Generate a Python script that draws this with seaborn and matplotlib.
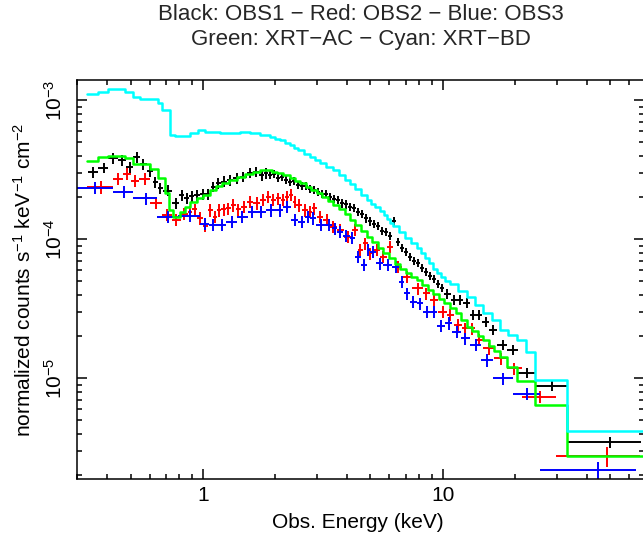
import matplotlib
matplotlib.use("Agg")
import matplotlib.pyplot as plt
import numpy as np
import pandas as pd
import seaborn as sns
from matplotlib.ticker import LogLocator, NullFormatter

# OBS1 (black): channel bin edges [keV], flux [counts s^-1 keV^-1 cm^-2], relative errors
obs1_edges = [
    0.3327, 0.3673, 0.4044, 0.4416, 0.4781, 0.5137, 0.5480, 0.5843, 0.6177, 0.6479,
    0.6852, 0.7427, 0.7981, 0.8374, 0.8784, 0.9217, 0.9744, 1.030, 1.081, 1.134,
    1.190, 1.259, 1.341, 1.430, 1.525, 1.625, 1.720, 1.804, 1.871,
    1.944, 2.020, 2.099, 2.181, 2.267, 2.355, 2.447, 2.543, 2.642, 2.746,
    2.853, 2.965, 3.081, 3.201, 3.326, 3.456, 3.591, 3.732, 3.878, 4.029,
    4.187, 4.350, 4.520, 4.697, 4.881, 5.072, 5.270, 5.476, 5.690, 5.913,
    6.144, 6.384, 6.634, 6.893, 7.163, 7.443, 7.734, 8.036, 8.351, 8.677,
    9.016, 9.369, 9.735, 10.12,
    10.78, 11.42, 12.21, 12.99, 13.76, 14.58, 15.59, 16.92, 18.62, 20.60,
    24.25, 32.96, 67.05,
]
obs1_flux = [
    3.03e-4, 3.27e-4, 3.83e-4, 3.72e-4, 3.30e-4, 3.89e-4, 3.46e-4, 3.11e-4, 2.57e-4, 2.33e-4,
    2.24e-4, 1.82e-4, 2.08e-4, 1.97e-4, 2.05e-4, 2.08e-4, 2.12e-4, 2.11e-4, 2.39e-4, 2.53e-4,
    2.60e-4, 2.67e-4, 2.75e-4, 2.82e-4, 3.01e-4, 3.06e-4, 2.90e-4, 2.98e-4,
    2.90e-4, 2.95e-4, 2.76e-4, 2.81e-4, 2.67e-4, 2.58e-4, 2.63e-4, 2.46e-4, 2.42e-4, 2.42e-4,
    2.30e-4, 2.26e-4, 2.19e-4, 2.12e-4, 2.12e-4, 2.01e-4, 1.95e-4, 1.92e-4, 1.82e-4, 1.79e-4,
    1.71e-4, 1.68e-4, 1.57e-4, 1.52e-4, 1.42e-4, 1.35e-4, 1.29e-4, 1.25e-4, 1.15e-4, 1.13e-4,
    1.06e-4, 1.35e-4, 9.56e-5, 8.66e-5, 8.10e-5, 7.46e-5, 6.98e-5, 6.75e-5, 6.22e-5, 5.82e-5,
    5.45e-5, 5.18e-5, 4.77e-5, 4.46e-5,
    4.04e-5, 3.66e-5, 3.66e-5, 3.48e-5, 2.85e-5, 2.85e-5, 2.54e-5, 2.23e-5, 1.74e-5, 1.60e-5,
    1.09e-5, 8.80e-6, 3.48e-6,
]
obs1_rel = [0.09] * 28 + [0.07] * 44 + [0.08] * 12 + [0.09]

# OBS2 (red)
obs2_edges = [
    0.3286, 0.4239, 0.4632, 0.5018, 0.5436, 0.6046, 0.6767, 0.7427, 0.8110, 0.8643,
    0.9025, 0.9467, 0.9982, 1.047, 1.099, 1.149, 1.195, 1.248, 1.309, 1.374,
    1.441, 1.524, 1.626, 1.733, 1.832, 1.922, 2.017, 2.115, 2.203, 2.280,
    2.367, 2.458, 2.584, 2.734, 2.844, 2.984, 3.183, 3.392, 3.615, 3.885,
    4.174, 4.416, 4.633, 4.861, 5.141, 5.481, 5.842, 6.229, 6.748, 7.484,
    8.239, 8.854, 9.587, 10.39, 11.16, 11.99, 12.79, 13.63, 14.77, 16.39,
    18.48, 21.34, 29.65, 66.73,
]
obs2_flux = [
    2.37e-4, 2.72e-4, 2.95e-4, 2.64e-4, 2.72e-4, 1.83e-4, 1.50e-4, 1.38e-4, 1.52e-4, 1.58e-4,
    1.64e-4, 1.42e-4, 1.25e-4, 1.62e-4, 1.45e-4, 1.62e-4, 1.64e-4, 1.67e-4, 1.76e-4, 1.64e-4,
    1.72e-4, 1.86e-4, 1.82e-4, 1.92e-4, 2.02e-4, 1.92e-4, 1.97e-4, 1.92e-4, 2.02e-4, 2.08e-4,
    1.86e-4, 1.76e-4, 1.62e-4, 1.58e-4, 1.67e-4, 1.45e-4, 1.38e-4, 1.23e-4, 1.17e-4, 1.04e-4,
    1.17e-4, 8.38e-5, 9.36e-5, 7.93e-5, 8.38e-5, 7.49e-5, 8.85e-5, 6.35e-5, 5.38e-5, 4.44e-5,
    4.09e-5, 3.66e-5, 3.01e-5, 2.85e-5, 2.42e-5, 2.29e-5, 2.29e-5, 1.89e-5, 1.64e-5, 1.39e-5,
    1.18e-5, 7.37e-6, 2.76e-6,
]
obs2_rel = [0.10] * 61 + [0.10, 0.16]

# OBS3 (blue)
obs3_edges = [
    0.29, 0.4239, 0.5137, 0.6468, 0.7889, 0.9744, 1.062, 1.152, 1.250, 1.386,
    1.537, 1.668, 1.832, 2.017, 2.167, 2.328, 2.502, 2.669, 2.800, 2.960,
    3.233, 3.473, 3.617, 3.824, 4.110, 4.291, 4.566, 4.824, 4.980, 5.265,
    5.656, 6.132, 6.590, 6.913, 7.309, 7.793, 8.304, 8.854, 9.513, 10.22,
    10.98, 11.90, 12.99, 14.44, 16.20, 19.63, 25.34, 63.72,
]
obs3_flux = [
    2.34e-4, 2.20e-4, 1.97e-4, 1.45e-4, 1.47e-4, 1.29e-4, 1.27e-4, 1.27e-4, 1.34e-4, 1.45e-4,
    1.58e-4, 1.58e-4, 1.62e-4, 1.62e-4, 1.72e-4, 1.38e-4, 1.34e-4, 1.45e-4, 1.42e-4, 1.27e-4,
    1.27e-4, 1.20e-4, 1.13e-4, 1.06e-4, 1.02e-4, 7.49e-5, 6.53e-5, 8.38e-5, 8.14e-5, 6.72e-5,
    6.53e-5, 6.35e-5, 4.95e-5, 4.09e-5, 3.56e-5, 3.46e-5, 3.01e-5, 3.01e-5, 2.38e-5, 2.49e-5,
    2.16e-5, 1.94e-5, 1.74e-5, 1.35e-5, 1.00e-5, 7.71e-6, 2.19e-6,
]
obs3_rel = [0.10] * 46 + [0.14]

# XRT-AC model (green), step function: left bin edges + last edge
xrtac_edges = [
    0.3286, 0.3673, 0.4044, 0.4745, 0.5137, 0.6032, 0.6531, 0.6965, 0.7238, 0.7545,
    0.8044, 0.8437, 0.8853, 0.9441, 1.003, 1.072, 1.136, 1.204, 1.287, 1.386,
    1.501, 1.625, 1.733, 1.848, 1.945, 2.040, 2.161, 2.311, 2.424, 2.543,
    2.694, 2.827, 2.995, 3.141, 3.327, 3.501, 3.699, 3.898, 4.110, 4.311,
    4.566, 4.824, 5.075, 5.375, 5.656, 5.974, 6.298, 6.638, 7.032, 7.379,
    7.793, 8.200, 8.686, 9.139, 9.651, 10.17, 10.73, 11.31, 11.92, 12.59,
    13.25, 14.03, 14.77, 15.59, 16.44, 17.33, 18.49, 20.34, 24.25, 32.96, 68.33,
]
xrtac_flux = [
    3.68e-4, 3.89e-4, 3.97e-4, 3.83e-4, 3.46e-4, 3.20e-4, 2.77e-4, 2.14e-4, 1.62e-4, 1.45e-4,
    1.58e-4, 1.72e-4, 1.86e-4, 1.98e-4, 2.10e-4, 2.26e-4, 2.40e-4, 2.54e-4, 2.67e-4, 2.82e-4,
    2.97e-4, 3.06e-4, 3.14e-4, 3.15e-4, 3.07e-4, 2.98e-4, 2.88e-4, 2.75e-4, 2.63e-4, 2.53e-4,
    2.39e-4, 2.26e-4, 2.14e-4, 2.02e-4, 1.89e-4, 1.76e-4, 1.64e-4, 1.51e-4, 1.38e-4, 1.27e-4,
    1.15e-4, 1.04e-4, 9.56e-5, 8.66e-5, 7.93e-5, 7.28e-5, 6.64e-5, 6.11e-5, 5.72e-5, 5.40e-5,
    5.10e-5, 4.69e-5, 4.32e-5, 4.04e-5, 3.72e-5, 3.48e-5, 3.23e-5, 2.95e-5, 2.63e-5, 2.35e-5,
    2.19e-5, 2.03e-5, 1.89e-5, 1.72e-5, 1.57e-5, 1.43e-5, 1.21e-5, 9.56e-6, 6.43e-6, 2.76e-6,
]

# XRT-BD model (cyan)
xrtbd_edges = [
    0.3286, 0.3663, 0.4032, 0.4745, 0.5123, 0.5480, 0.6512, 0.6767, 0.7306, 0.7670,
    0.8853, 0.9559, 1.022, 1.181, 1.430, 1.574, 1.733, 1.907, 2.001, 2.099,
    2.203, 2.311, 2.401, 2.495, 2.643, 2.800, 2.938, 3.082, 3.264, 3.491,
    3.699, 3.916, 4.110, 4.311, 4.566, 4.838, 5.027, 5.224, 5.481, 5.694,
    5.861, 6.031, 6.207, 6.576, 6.965, 7.379, 7.815, 8.123, 8.438, 8.768,
    9.113, 9.469, 9.838, 10.27, 10.73, 11.58, 12.63, 13.63, 14.72, 16.05,
    17.33, 18.71, 20.39, 22.24, 24.25, 32.96, 68.33,
]
xrtbd_flux = [
    1.11e-3, 1.15e-3, 1.20e-3, 1.15e-3, 1.06e-3, 1.02e-3, 9.52e-4, 8.52e-4, 5.63e-4, 5.56e-4,
    5.81e-4, 6.11e-4, 5.94e-4, 5.79e-4, 5.94e-4, 5.79e-4, 5.63e-4, 5.45e-4, 5.31e-4, 5.18e-4,
    4.97e-4, 4.77e-4, 4.57e-4, 4.39e-4, 4.14e-4, 3.91e-4, 3.72e-4, 3.54e-4, 3.34e-4, 3.15e-4,
    2.90e-4, 2.67e-4, 2.48e-4, 2.30e-4, 2.10e-4, 1.92e-4, 1.81e-4, 1.71e-4, 1.60e-4, 1.50e-4,
    1.40e-4, 1.32e-4, 1.25e-4, 1.13e-4, 1.02e-4, 9.41e-5, 8.66e-5, 7.97e-5, 7.33e-5, 6.70e-5,
    6.11e-5, 5.72e-5, 5.36e-5, 5.05e-5, 4.77e-5, 4.25e-5, 3.85e-5, 3.37e-5, 2.95e-5, 2.63e-5,
    2.23e-5, 2.05e-5, 1.89e-5, 1.55e-5, 9.72e-6, 4.20e-6,
]

title_lines = ["Black: OBS1 \u2212 Red: OBS2 \u2212 Blue: OBS3",
               "Green: XRT\u2212AC \u2212 Cyan: XRT\u2212BD"]


def plot_spectrum(ax, edges, flux, rel, color):
    edges = np.asarray(edges)
    flux = np.asarray(flux)
    lo, hi = edges[:-1], edges[1:]
    energy = 0.5 * (lo + hi)
    ax.errorbar(energy, flux, xerr=[energy - lo, hi - energy],
                yerr=flux * np.asarray(rel), fmt="none", ecolor=color,
                elinewidth=1.4, capsize=0, zorder=2)


sns.set_theme(style="ticks", rc={"axes.linewidth": 1.1, "axes.edgecolor": "black"})
plt.rcParams["font.family"] = ["Liberation Sans", "DejaVu Sans"]
plt.rcParams["mathtext.fontset"] = "custom"
plt.rcParams["mathtext.rm"] = "Liberation Sans"
plt.rcParams["mathtext.it"] = "Liberation Sans:italic"
plt.rcParams["mathtext.bf"] = "Liberation Sans:bold"

fig = plt.figure(figsize=(6.43, 5.37), dpi=100)
ax = fig.add_axes([0.1202, 0.1080, 0.8813, 0.7430])

plot_spectrum(ax, obs1_edges, obs1_flux, obs1_rel, "black")
plot_spectrum(ax, obs2_edges, obs2_flux, obs2_rel, "#ff0000")
plot_spectrum(ax, obs3_edges, obs3_flux, obs3_rel, "#0000ff")

models = pd.concat([
    pd.DataFrame({"energy": xrtac_edges, "flux": xrtac_flux + xrtac_flux[-1:], "model": "XRT-AC"}),
    pd.DataFrame({"energy": xrtbd_edges, "flux": xrtbd_flux + xrtbd_flux[-1:], "model": "XRT-BD"}),
])
sns.lineplot(data=models, x="energy", y="flux", hue="model",
             palette={"XRT-AC": "#00ff00", "XRT-BD": "#00ffff"},
             drawstyle="steps-post", estimator=None, errorbar=None, sort=False,
             legend=False, linewidth=1.8, ax=ax, zorder=3)

ax.set_xscale("log")
ax.set_yscale("log")
ax.set_xlim(0.3, 69)
ax.set_ylim(1.886e-6, 1.40e-3)

ax.set_xticks([1, 10], labels=["1", "10"])
ax.xaxis.set_minor_locator(LogLocator(base=10, subs=np.arange(2, 10), numticks=20))
ax.xaxis.set_minor_formatter(NullFormatter())
ax.set_yticks([1e-5, 1e-4, 1e-3], labels=[r"$10^{-5}$", r"$10^{-4}$", r"$10^{-3}$"])
ax.yaxis.set_minor_locator(LogLocator(base=10, subs=np.arange(2, 10), numticks=20))
ax.yaxis.set_minor_formatter(NullFormatter())

ax.tick_params(which="both", direction="in", top=True, right=True, width=1.1,
               color="black", labelsize=15, labelcolor="black")
ax.tick_params(which="major", length=7)
ax.tick_params(which="minor", length=3.5)
ax.tick_params(axis="x", pad=5)
ax.tick_params(axis="y", pad=8, labelrotation=90)
for lab in ax.get_yticklabels():
    lab.set_va("center")

ax.set_xlabel("Obs. Energy (keV)", fontsize=15, color="black")
ax.xaxis.set_label_coords(358 / 643, 15 / 537, transform=fig.transFigure)
ax.xaxis.label.set_va("center")
ax.set_ylabel(r"normalized counts s$^{-1}$ keV$^{-1}$ cm$^{-2}$", fontsize=15, color="black")
ax.yaxis.set_label_coords(23.5 / 643, 1 - 280 / 537, transform=fig.transFigure)
ax.yaxis.label.set_va("center")

fig.text(361 / 643, 1 - 15 / 537, title_lines[0], ha="center", va="center", fontsize=16)
fig.text(361 / 643, 1 - 39 / 537, title_lines[1], ha="center", va="center", fontsize=16)

fig.savefig("out.png", dpi=100)
